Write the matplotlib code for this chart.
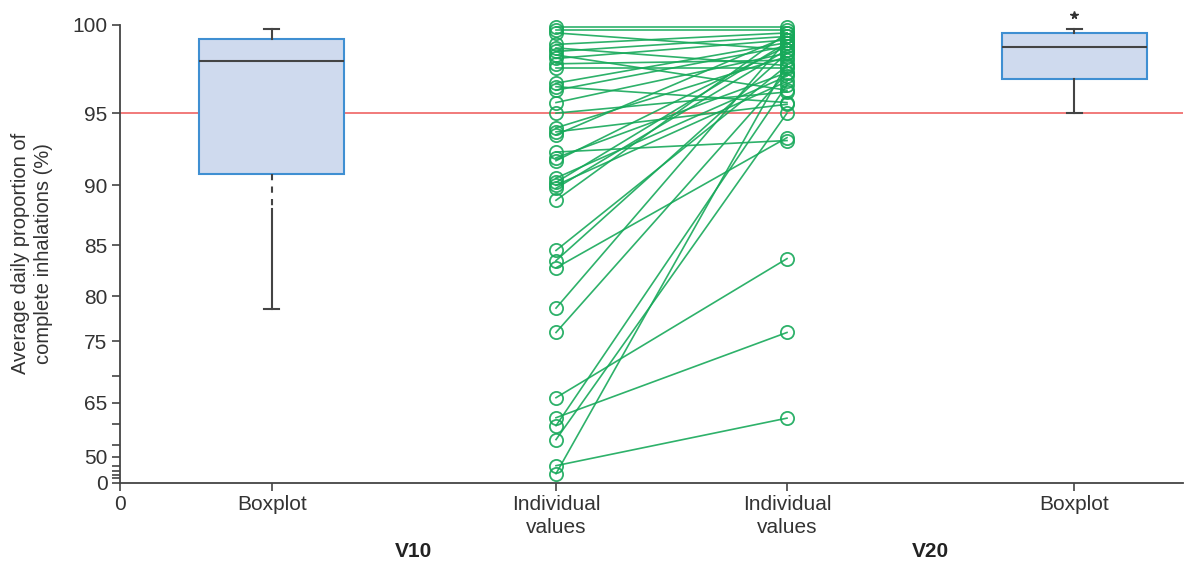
import numpy as np
import matplotlib
matplotlib.use('Agg')
import matplotlib.pyplot as plt

plt.rcParams['font.family'] = ['Liberation Sans', 'DejaVu Sans']

# --- data ---
# paired individual values, V10 -> V20 (%)
v10_values = [99.9, 99.7, 99.55, 98.9, 98.7, 98.5, 98.3, 98.1, 97.8, 97.55,
              96.7, 96.5, 96.3, 95.6, 95.0, 93.98, 93.7, 93.5, 92.3, 91.9,
              91.7, 90.5, 90.2, 90.0, 89.75, 88.75, 84.5, 83.5, 82.8, 78.7,
              76.0, 65.9, 61.4, 59.5, 56.2, 40.0, 22.5]
v20_values = [99.9, 99.7, 98.6, 99.55, 97.7, 99.35, 96.3, 99.15, 98.0, 97.55,
              99.0, 95.6, 98.8, 98.4, 96.2, 98.2, 95.5, 99.35, 93.1, 97.3,
              98.8, 97.1, 99.0, 96.8, 98.6, 99.55, 97.7, 98.4, 93.3, 99.15,
              97.3, 83.7, 76.0, 96.6, 95.0, 61.3, 97.8]

# boxplot summaries
v10_box = dict(whislo=78.56, q1=90.76, med=97.95, q3=99.19, whishi=99.8)
v20_box = dict(whislo=95.0, q1=96.93, med=98.73, q3=99.53, whishi=99.8)
v10_whisker_gap = 88.2      # lower V10 whisker is dashed above this value
threshold = 95

tick_labels = ['0', 'Boxplot', 'Individual\nvalues', 'Individual\nvalues', 'Boxplot']
group_labels = ['V10', 'V20']

# non-linear y axis: tick values and where they sit (px above the x axis)
yscale_vals = [0, 10, 20, 30, 40, 50, 55, 60, 65, 70, 75, 80, 85, 90, 95, 100]
yscale_pos = [0, 5, 8, 12, 17, 26, 38, 59, 80, 107, 141, 186, 237, 297, 369, 457]
ytick_shown = [0, 50, 65, 75, 80, 85, 90, 95, 100]

# --- layout ---
xpos = [0, 151.7, 436, 667, 954]
xmax = 1063
green = '#17a95a'
grey = '#444444'

def fwd(v):
    return np.interp(v, yscale_vals, yscale_pos)

def inv(p):
    return np.interp(p, yscale_pos, yscale_vals)

fig = plt.figure(figsize=(11.97, 5.62), dpi=100)
ax = fig.add_axes([120/1197, 1-482.7/562, xmax/1197, 457.7/562])
ax.set_yscale('function', functions=(fwd, inv))
ax.set_ylim(0, 100)
ax.set_xlim(0, xmax)

ax.axhline(threshold, color='#f07070', lw=1.3, zorder=1)

# boxplots
stats = []
for b in (v10_box, v20_box):
    s = dict(b)
    s['fliers'] = []
    stats.append(s)
bp = ax.bxp(stats, positions=[xpos[1], xpos[4]], widths=145, patch_artist=True,
            showfliers=False,
            boxprops=dict(facecolor='#cfdaee', edgecolor='#3f8fd2', lw=1.5),
            medianprops=dict(color=grey, lw=1.5),
            whiskerprops=dict(color=grey, lw=1.5),
            capprops=dict(color=grey, lw=1.5), capwidths=15, zorder=3)
w = bp['whiskers'][0]
w.set_ydata([v10_whisker_gap - 0.2, v10_box['whislo']])
ax.plot([xpos[1], xpos[1]], [v10_box['q1'], v10_whisker_gap],
        color=grey, lw=1.5, ls=(0, (3, 3)), zorder=3)
# asterisk above the V20 upper whisker
ax.plot([xpos[4]], [1.022], transform=ax.get_xaxis_transform(), marker='*',
        ms=5.5, color='#333333', mec='#333333', ls='none', clip_on=False)

# individual paired values
for a, b in zip(v10_values, v20_values):
    ax.plot([xpos[2], xpos[3]], [a, b], color=green, lw=1.2, alpha=0.9,
            marker='o', ms=9.5, mfc='none', mec=green, mew=1.3,
            zorder=4, clip_on=False)

# axes styling
for side in ('top', 'right'):
    ax.spines[side].set_visible(False)
for side in ('left', 'bottom'):
    ax.spines[side].set_color(grey)
    ax.spines[side].set_linewidth(1.3)

ax.set_yticks(yscale_vals)
ax.set_yticklabels([str(v) if v in ytick_shown else '' for v in yscale_vals])
ax.yaxis.set_minor_locator(matplotlib.ticker.NullLocator())
ax.set_xticks(xpos)
ax.set_xticklabels(tick_labels, linespacing=1.28)
ax.tick_params(axis='both', colors=grey, labelcolor='#333333', labelsize=15,
               length=6, width=1.2)
ax.tick_params(axis='x', pad=3)
ax.tick_params(axis='y', pad=3)

ax.set_ylabel('Average daily proportion of\ncomplete inhalations (%)',
              fontsize=14.5, color='#333333', linespacing=1.25, labelpad=14)

for lab, xg in zip(group_labels, [(xpos[1] + xpos[2]) / 2, (xpos[3] + xpos[4]) / 2]):
    ax.text(xg, -0.15, lab, transform=ax.get_xaxis_transform(), ha='center',
            va='center', fontsize=15, fontweight='bold', color='#222222')

fig.savefig('out.png', dpi=100)
